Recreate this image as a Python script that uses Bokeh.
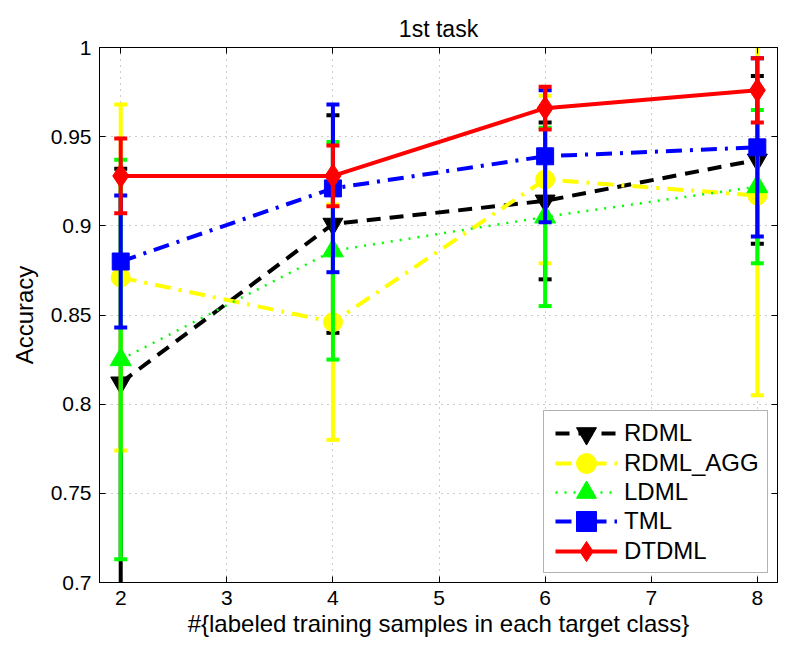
from bokeh.plotting import figure
from bokeh.models import (Legend, LegendItem, LinearAxis, FixedTicker, Range1d,
                          BoxAnnotation)
from bokeh.embed import file_html
from bokeh.resources import INLINE

# Number of labeled training samples per target class
samples = [2, 4, 6, 8]

# Mean accuracy and standard deviation for each method
rdml_mean = [0.812, 0.901, 0.914, 0.937]
rdml_err = [0.120, 0.061, 0.044, 0.047]

rdml_agg_mean = [0.871, 0.846, 0.926, 0.917]
rdml_agg_err = [0.097, 0.066, 0.047, 0.112]

ldml_mean = [0.825, 0.886, 0.905, 0.922]
ldml_err = [0.112, 0.061, 0.050, 0.043]

tml_mean = [0.880, 0.921, 0.939, 0.944]
tml_err = [0.037, 0.047, 0.037, 0.050]

dtdml_mean = [0.928, 0.928, 0.966, 0.976]
dtdml_err = [0.021, 0.017, 0.012, 0.018]

names = ["RDML", "RDML_AGG", "LDML", "TML", "DTDML"]
x_ticks = [2, 3, 4, 5, 6, 7, 8]
y_ticks = [0.7, 0.75, 0.8, 0.85, 0.9, 0.95, 1.0]

FONT = "Liberation Sans"

p = figure(width=811, height=652, output_backend="svg", toolbar_location=None,
           x_range=Range1d(1.8, 8.19), y_range=Range1d(0.7, 1.0),
           min_border_left=99, min_border_right=34, min_border_top=47,
           min_border_bottom=70, title="1st task")

p.title.align = "center"
p.title.text_font = FONT
p.title.text_font_size = "23px"
p.title.text_font_style = "normal"
p.title.text_color = "black"
p.title.standoff = 11

p.outline_line_color = "black"
p.outline_line_width = 1

p.xaxis.ticker = FixedTicker(ticks=x_ticks)
p.yaxis.ticker = FixedTicker(ticks=y_ticks)
p.yaxis.major_label_overrides = {0.7: "0.7", 0.75: "0.75", 0.8: "0.8", 0.85: "0.85",
                                 0.9: "0.9", 0.95: "0.95", 1.0: "1"}
for ax in (p.xaxis[0], p.yaxis[0]):
    ax.major_tick_in = 6
    ax.major_tick_out = 0
    ax.minor_tick_line_color = None
    ax.axis_line_color = "black"
    ax.major_tick_line_color = "black"
    ax.major_label_text_font = FONT
    ax.major_label_text_font_size = "21px"
    ax.major_label_text_color = "black"
    ax.axis_label_text_font = FONT
    ax.axis_label_text_font_size = "24px"
    ax.axis_label_text_font_style = "normal"
    ax.axis_label_text_color = "black"
p.xaxis.axis_label = "#{labeled training samples in each target class}"
p.yaxis.axis_label = "Accuracy"
p.xaxis.major_label_standoff = 8
p.yaxis.major_label_standoff = 8
p.xaxis.axis_label_standoff = 2
p.yaxis.axis_label_standoff = 10

# Tick marks on the top and right edges of the box (no labels)
top = LinearAxis(ticker=FixedTicker(ticks=x_ticks), major_tick_in=6, major_tick_out=0,
                 minor_tick_line_color=None, major_label_text_color=None,
                 major_label_text_font_size="1px", major_label_standoff=0,
                 axis_line_color="black", major_tick_line_color="black")
right = LinearAxis(ticker=FixedTicker(ticks=y_ticks), major_tick_in=6, major_tick_out=0,
                   minor_tick_line_color=None, major_label_text_color=None,
                   major_label_text_font_size="1px", major_label_standoff=0,
                   axis_line_color="black", major_tick_line_color="black")
p.add_layout(top, "above")
p.add_layout(right, "right")

p.grid.grid_line_color = "#9a9a9a"
p.grid.grid_line_dash = "1 5"
p.grid.grid_line_width = 1

series = [
    (rdml_mean, rdml_err, "black", "14 9", "inverted_triangle", 20, 4),
    (rdml_agg_mean, rdml_agg_err, "#ffff00", "16 8 3 8", "circle", 19, 4),
    (ldml_mean, ldml_err, "#00ff00", "2 7", "triangle", 21, 2.5),
    (tml_mean, tml_err, "#0000ff", "16 8 3 8", "square", 17, 4),
    (dtdml_mean, dtdml_err, "#ff0000", "solid", "diamond", 24, 4),
]

entries = []
for name, (mean, err, color, dash, marker, size, lw) in zip(names, series):
    upper = [m + e for m, e in zip(mean, err)]
    lower = [m - e for m, e in zip(mean, err)]
    p.segment(x0=samples, y0=lower, x1=samples, y1=upper, line_color=color, line_width=4)
    p.scatter(samples, upper, marker="dash", size=13, line_color=color, line_width=4)
    p.scatter(samples, lower, marker="dash", size=13, line_color=color, line_width=4)
    ln = p.line(samples, mean, line_color=color, line_width=lw, line_dash=dash)
    mk = p.scatter(samples, mean, marker=marker, size=size, fill_color=color,
                   line_color=color, line_width=1)
    entries.append(LegendItem(label=name, renderers=[ln, mk]))

# Legend frame (pixel offsets from the bottom-left corner of the plot frame)
p.add_layout(BoxAnnotation(left=444, right=668, bottom=10, top=172,
                           left_units="screen", right_units="screen",
                           bottom_units="screen", top_units="screen",
                           fill_color="white", fill_alpha=1,
                           line_color="black", line_width=1, level="annotation"))

# One legend row per method, with tall glyph boxes so the markers stay large
row_pitch = 29.5
first_row_center = 149
for i, item in enumerate(entries):
    center = first_row_center - i * row_pitch
    lg = Legend(items=[item], location=(456, int(round(center - 25))))
    lg.label_text_font = FONT
    lg.label_text_font_size = "24px"
    lg.label_text_color = "black"
    lg.glyph_width = 62
    lg.glyph_height = 50
    lg.label_height = 29
    lg.spacing = 0
    lg.padding = 0
    lg.margin = 0
    lg.label_standoff = 7
    lg.border_line_color = None
    lg.background_fill_color = None
    lg.background_fill_alpha = 0
    p.add_layout(lg)

open("out.html", "w").write(file_html(p, INLINE))
